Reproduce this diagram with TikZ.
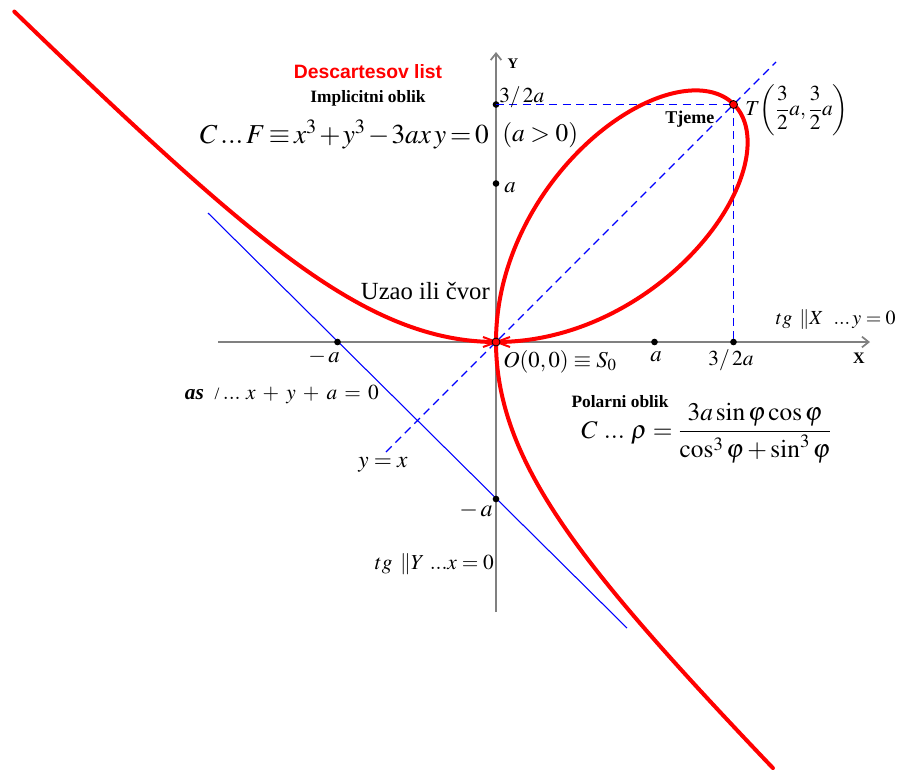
\documentclass[tikz,border=0pt]{standalone}
\usepackage{mathptmx}
\usepackage{fontspec}
\setmainfont{Liberation Serif}
\newfontfamily\arialfont{Liberation Sans}
\usetikzlibrary{arrows.meta}
\newcommand{\fsz}[1]{\fontsize{#1}{#1}\selectfont}
\begin{document}
\begin{tikzpicture}[x=0.75pt,y=-0.75pt]
\tikzset{
  axisline/.style={draw=gray, line width=1.3pt, -{Straight Barb[length=5pt,width=8pt]}},
  curveline/.style={red, line width=3pt, line join=round, line cap=round},
  guide/.style={draw=blue, line width=1pt, dash pattern=on 6pt off 4pt},
  asymline/.style={blue, line width=0.8pt},
  dotpt/.style={circle, fill=black, inner sep=0pt, minimum size=5pt},
  lbl/.style={inner sep=0pt},
}
\path[use as bounding box] (0,0) rectangle (898,769);
% axes
\coordinate (xl) at (218,342);
\coordinate (xr) at (870,342);
\coordinate (yb) at (496,612);
\coordinate (yt) at (496,52);
\draw[axisline] (xl) -- (xr);
\draw[axisline] (yb) -- (yt);
% asymptote and y=x
\coordinate (as1) at (208,213);
\coordinate (as2) at (627,628);
\draw[asymline] (as1) -- (as2);
\coordinate (yx1) at (386,452);
\coordinate (yx2) at (776,62);
\draw[guide] (yx1) -- (yx2);
% points
\node[dotpt] (O) at (496,342) {};
\node[dotpt] (y32) at (496,104.5) {};
\node[dotpt] (ya) at (496,183.5) {};
\node[dotpt] (yma) at (496,499) {};
\node[dotpt] (xma) at (337.5,342) {};
\node[dotpt] (xa) at (654.5,342) {};
\node[dotpt] (x32) at (733.5,342) {};
\coordinate (Tc) at (733.5,104.5);
\draw[guide] (y32.center) -- (Tc);
\draw[guide, line width=1.3pt] (Tc) -- (x32.center);
% curve
\begin{scope}
\clip (0,0) rectangle (898,769);
\draw[curveline] plot[domain=-0.686:1, samples=400, variable=\t]
  ({496+475.5*\t/(1+\t*\t*\t)}, {342-475.5*(\t)*(\t)/(1+\t*\t*\t)});
\draw[curveline] plot[domain=-0.65:1, samples=400, variable=\t]
  ({496+475.5*(\t)*(\t)/(1+\t*\t*\t)}, {342-475.5*\t/(1+\t*\t*\t)});
\end{scope}
\draw[red, line width=1.5pt] (483,337) -- (510,347) (483,347) -- (510,337);
\node[circle, fill=red, draw=black, line width=0.6pt, inner sep=0pt, minimum size=6pt] (Omark) at (496,342) {};
\node[circle, fill=red, draw=black, line width=0.6pt, inner sep=0pt, minimum size=6pt] (T) at (Tc) {};
% texts
\node[lbl, text=red, font=\arialfont\bfseries\fsz{14.5}] (title) at (368,72) {Descartesov list};
\node[lbl, font=\bfseries\fsz{13}] (impl) at (368,98) {Implicitni oblik};
\node[lbl, anchor=base east, font=\fsz{20.5}] (feq) at (489,143) {\medmuskip=1.5mu\thickmuskip=2.5mu $C\,...\,F\equiv x^{3}+y^{3}-3ax\,y=0$};
\node[lbl, anchor=base west, font=\fsz{19}] (apos) at (502,141) {$(a>0)$};
\node[lbl, anchor=base west, font=\fsz{16}] (l32y) at (499,102) {$3/\,2a$};
\node[lbl, anchor=base west, font=\fsz{17}] (lay) at (504,192) {$a$};
\node[lbl, anchor=base east, font=\fsz{18.5}] (uzao) at (490,299) {Uzao ili čvor};
\node[lbl, anchor=base east, font=\fsz{15}] (tgx) at (896,324) {$tg\ \,\|X\ \ ...\,y=0$};
\node[lbl, anchor=base, font=\fsz{17}] (lmax) at (324,362) {$-\,a$};
\node[lbl, anchor=base west, font=\fsz{17}] (lO) at (503,367) {$O(0,0)\equiv S_{0}$};
\node[lbl, anchor=base, font=\fsz{17}] (lax) at (656,361) {$a$};
\node[lbl, anchor=base, font=\fsz{16}] (l32x) at (731,365) {$3/\,2a$};
\node[lbl, anchor=base, font=\bfseries\fsz{12}] (lX) at (859,363) {X};
\node[lbl, anchor=base, font=\bfseries\fsz{11}] (lY) at (513,68) {Y};
\node[lbl, anchor=base, font=\bfseries\fsz{13}] (polar) at (620,407) {Polarni oblik};
\node[lbl, anchor=base west, font=\fsz{19}] (peq) at (581,438) {$C\ ...\ \rho=\displaystyle\frac{3a\sin\varphi\cos\varphi}{\cos^{3}\varphi+\sin^{3}\varphi}$};
\node[lbl, anchor=base east, font=\fsz{16}] (asl) at (379,399) {{\bfseries\itshape as}\ \ {\fsz{13}/}\,\medmuskip=6mu\thickmuskip=6mu$...\ x+y+a=0$};
\node[lbl, anchor=base west, font=\fsz{17.5}] (yxl) at (358,467) {$y=x$};
\node[lbl, anchor=base east, font=\fsz{18}] (lmay) at (493,516) {$-\,a$};
\node[lbl, anchor=base east, font=\fsz{16}] (tgy) at (494,569) {$tg\ \,\|Y\ ...x=0$};
\node[lbl, anchor=base west, font=\bfseries\fsz{13.5}] (tjeme) at (665,123) {Tjeme};
\node[lbl, anchor=west, font=\fsz{16}] (Tl) at (745,110) {$T\!\left(\displaystyle\frac{3}{2}a,\frac{3}{2}a\right)$};
\end{tikzpicture}
\end{document}
